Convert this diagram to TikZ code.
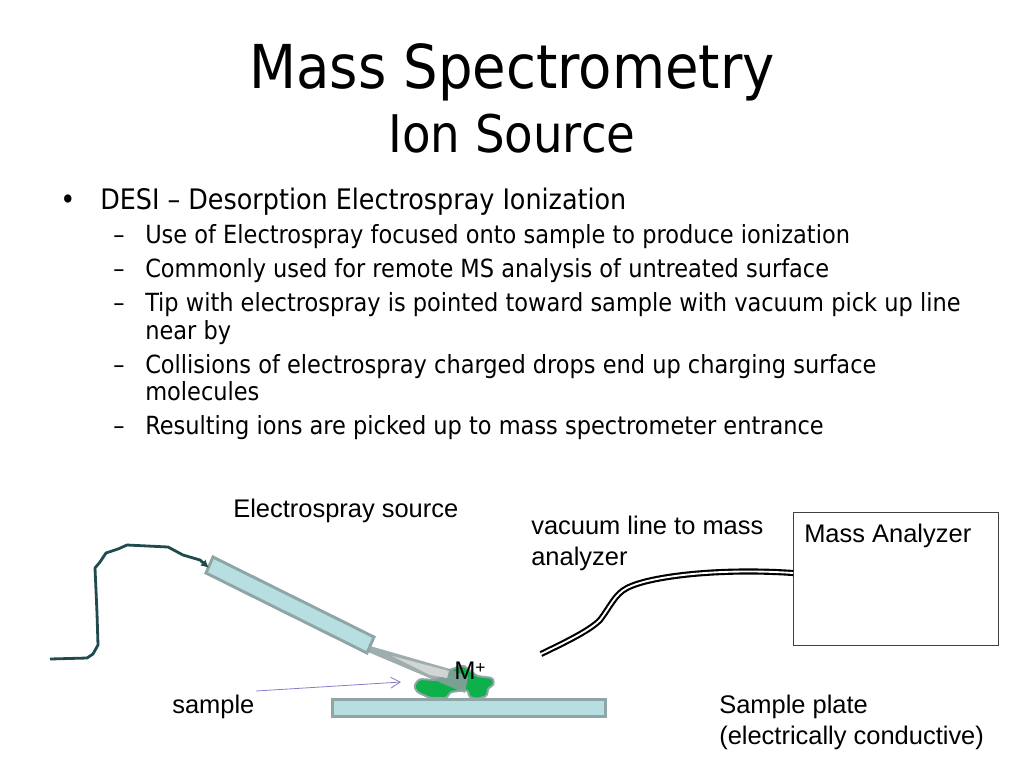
\documentclass[tikz,border=0pt]{standalone}
\usepackage{fontspec}
\usetikzlibrary{arrows.meta}
\setmainfont{DejaVu Sans Condensed}
\newfontfamily\labelfont{Liberation Sans}
\definecolor{tubefill}{HTML}{B7DEE1}
\definecolor{tubeedge}{HTML}{8FA5A6}
\definecolor{wirecol}{HTML}{1F4A4E}
\definecolor{blobfill}{HTML}{0DB04B}
\definecolor{arrowcol}{HTML}{8A7CC8}
\tikzset{
	titletext/.style={anchor=base,inner sep=0pt,font=\fontsize{45.4}{50}\selectfont},
	subtitletext/.style={anchor=base,inner sep=0pt,font=\fontsize{38.9}{42}\selectfont},
	bodytext/.style={anchor=base west,inner sep=0pt,font=\fontsize{21.2}{24}\selectfont},
	subtext/.style={anchor=base west,inner sep=0pt,font=\fontsize{18.75}{22}\selectfont},
	labeltext/.style={anchor=base west,inner sep=0pt,font=\labelfont\fontsize{19.1}{22}\selectfont},
	tube/.style={draw=tubeedge,fill=tubefill,line width=2.2pt,line join=miter},
}
\begin{document}
\begin{tikzpicture}[x=0.75pt,y=-0.75pt]
	\useasboundingbox (0,0) rectangle (1024,768);
	% heading
	\node [titletext] (title) at (512,88) {Mass Spectrometry};
	\node [subtitletext] (subtitle) at (512,152) {Ion Source};
	% bullets
	\node [bodytext] (bullet) at (60,209) {•};
	\node [bodytext] (desi) at (100,209) {DESI – Desorption Electrospray Ionization};
	\node [subtext] (dasha) at (113,243) {–};
	\node [subtext] (linea) at (145,243) {Use of Electrospray focused onto sample to produce ionization};
	\node [subtext] (dashb) at (113,277) {–};
	\node [subtext] (lineb) at (145,277) {Commonly used for remote MS analysis of untreated surface};
	\node [subtext] (dashc) at (113,311) {–};
	\node [subtext] (linec) at (145,311) {Tip with electrospray is pointed toward sample with vacuum pick up line};
	\node [subtext] (lined) at (145,339) {near by};
	\node [subtext] (dashd) at (113,373) {–};
	\node [subtext] (linee) at (145,373) {Collisions of electrospray charged drops end up charging surface};
	\node [subtext] (linef) at (145,400) {molecules};
	\node [subtext] (dashe) at (113,434) {–};
	\node [subtext] (lineg) at (145,434) {Resulting ions are picked up to mass spectrometer entrance};
	% sample blob, plate
	\draw [draw=tubeedge,fill=blobfill,line width=1.5pt,rounded corners=2pt] (414,686) -- (419,679) -- (437,680) -- (447,671) -- (463,665) -- (477,676) -- (493,678) -- (494,685) -- (488,688) -- (487,696) -- (477,699) -- (469,697) -- (468,690) -- (450,692) -- (447,698) -- (430,698) -- (417,692) -- cycle;
	\node [draw=tubeedge,fill=tubefill,line width=2.2pt,minimum width=205pt,minimum height=13pt,inner sep=0pt] (plate) at (469,708) {};
	% spray cone
	\fill [tubeedge!85!gray,opacity=0.85] (370,646) -- (368,652) -- (465,693) -- (468,677) -- (450,669) -- cycle;
	\fill [gray!30,opacity=0.9] (392,656) -- (430,675) -- (447,678) -- (449,671) -- cycle;
	% electrospray tube, wire
	\draw [tube] (213,557) -- (206,573) -- (367,653) -- (374,637) -- cycle;
	\coordinate (wirestart) at (50,659);
	\coordinate (wireend) at (209,568);
	\draw [wirecol,line width=2.1pt,line join=round,-{Latex[length=6pt,width=6pt]}] (wirestart) -- (87,658) -- (93,654) -- (98,645) -- (97,613) -- (95,568) -- (100,562) -- (106,553) -- (118,549) -- (127,545) -- (168,547) -- (183,555) -- (200,560) -- (wireend);
	% analyzer and vacuum line
	\node [draw=black!75,line width=0.75pt,minimum width=153.5pt,minimum height=100pt,inner sep=0pt] (analyzer) at (896,579) {};
	\coordinate (vacstart) at (541,654);
	\draw [double=white,double distance=1.4pt,line width=1.6pt] (vacstart) .. controls (570,640) and (590,630) .. (600,620) .. controls (610,607) and (615,594) .. (627,588) .. controls (650,576) and (720,568) .. (analyzer.west |- 0,573);
	% labels
	\node [labeltext] (esi) at (233,517) {Electrospray source};
	\node [labeltext] (vaca) at (531,534) {vacuum line to mass};
	\node [labeltext] (vacb) at (531,565) {analyzer};
	\node [labeltext] (analyzerlabel) at (804,542) {Mass Analyzer};
	\node [labeltext] (samplelabel) at (172,713) {sample};
	\node [labeltext] (platea) at (719,713) {Sample plate};
	\node [labeltext] (plateb) at (719,744) {(electrically conductive)};
	\node [labeltext] (ion) at (454,679) {M};
	\node [anchor=base west,inner sep=0pt,font=\labelfont\fontsize{13}{14}\selectfont] (plus) at (475,673) {+};
	\coordinate (samplehead) at (401,682);
	\draw [arrowcol,line width=0.6pt,-{Straight Barb[length=7pt,width=8pt]}] (256,691) -- (samplehead);
\end{tikzpicture}
\end{document}
